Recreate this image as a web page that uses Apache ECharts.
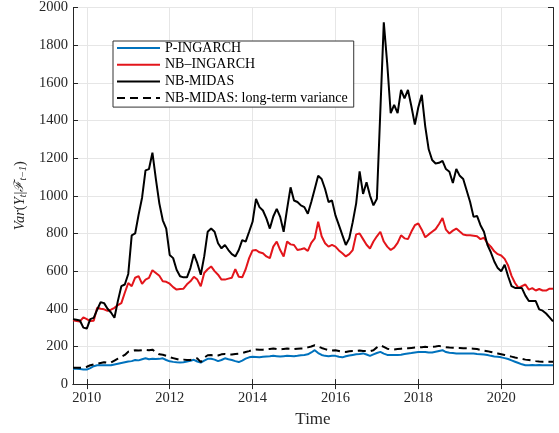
<!DOCTYPE html>
<html>
<head>
<meta charset="utf-8">
<script src="https://cdn.jsdelivr.net/npm/echarts@6/dist/echarts.min.js"></script>
<style>html,body{margin:0;padding:0;background:#fff;}#c{width:559px;height:433px;}</style>
</head>
<body>
<div id="c"></div>
<script>
// Monthly observations, 2009-09 .. 2021-04
const startYear = 2009, startMonth = 9, nMonths = 140;
const months = [];
for (let k = 0; k < nMonths; k++) {
  const m0 = startMonth - 1 + k;
  const y = startYear + Math.floor(m0 / 12), m = (m0 % 12) + 1;
  months.push(y + '-' + (m < 10 ? '0' + m : m));
}
const yTicks = {min: 0, max: 2000, step: 200};
const seriesNames = ['P-INGARCH', 'NB\u2013INGARCH', 'NB-MIDAS', 'NB-MIDAS: long-term variance'];

const pIngarch = [82,82,80,78,77,85,95,100,100,100,100,100,104,108,112,116,120,122,128,126,
  132,137,132,135,133,134,137,128,121,118,116,115,116,120,124,129,120,114,125,134,
  135,130,122,128,137,132,128,122,117,125,135,142,145,144,143,145,147,148,150,148,
  146,148,150,149,148,150,153,154,158,168,180,165,155,150,148,150,150,145,142,148,
  152,155,158,160,163,157,150,158,165,171,162,155,154,154,154,156,160,163,165,168,
  170,170,171,168,168,172,176,180,170,166,165,163,163,163,163,163,162,160,159,157,
  154,150,147,145,142,138,133,126,119,112,105,100,100,101,100,101,100,100,100,100];

const nbIngarch = [339,335,333,354,345,335,336,405,400,397,389,395,405,420,430,485,537,520,565,573,
  532,555,564,605,590,575,546,543,533,515,502,505,507,530,546,570,555,520,590,610,
  625,600,581,555,555,560,565,610,570,567,610,669,710,712,700,695,678,669,730,757,
  712,678,757,742,739,712,716,721,707,750,774,862,785,748,730,739,730,710,695,678,
  690,712,795,800,770,740,720,757,785,809,757,730,712,725,750,790,774,770,810,844,
  853,820,780,795,809,823,850,882,820,800,815,826,810,795,791,790,788,785,770,777,
  748,730,705,690,683,665,630,575,537,511,520,529,502,510,497,505,497,497,507,506];

const nbMidas = [345,342,338,300,295,345,352,395,435,430,400,380,352,442,520,529,585,790,800,900,
  990,1135,1142,1229,1089,960,870,826,686,669,607,573,567,567,616,690,642,581,678,809,
  826,809,748,721,739,712,690,678,712,765,757,809,862,984,940,922,880,826,890,931,
  888,809,931,1045,975,967,949,940,905,967,1036,1106,1089,1036,967,975,896,844,791,739,
  774,860,960,1130,1010,1072,1001,949,984,1450,1921,1700,1439,1483,1439,1562,1518,1562,1474,1378,
  1470,1536,1369,1247,1190,1172,1175,1185,1142,1128,1068,1142,1106,1089,1028,967,888,893,844,809,
  740,700,651,616,599,634,573,520,511,511,510,470,441,441,441,397,390,375,354,333];

const nbMidasLong = [87,87,87,87,92,100,104,108,112,116,113,115,125,135,145,155,172,176,180,178,
  180,182,180,183,170,158,156,150,143,138,133,128,130,128,128,132,137,117,140,153,
  154,150,152,158,160,158,157,160,162,165,170,175,182,184,182,183,186,187,189,186,
  184,187,189,188,186,188,189,189,195,200,206,200,192,186,180,178,180,176,172,171,
  174,176,176,178,176,175,175,180,195,206,198,188,184,184,186,188,190,190,192,194,
  195,196,198,196,198,200,203,198,196,194,193,192,192,191,190,189,188,186,182,178,
  175,171,167,163,159,155,150,146,141,137,134,130,128,125,122,120,119,119,119,119];

const FONT = 'Liberation Serif';
const AX = '#262626';
const GRID = '#e6e6e6';
const isMajor = (idx) => { const v = months[idx]; const y = +v.slice(0,4); return v.slice(5) === '01' && y % 2 === 0; };

const chart = echarts.init(document.getElementById('c'), null, {renderer: 'canvas'});
const mk = (name, data, color, dashed) => ({
  name, type: 'line', data, showSymbol: false, symbol: 'none', smooth: false,
  lineStyle: {color, width: 2, type: dashed ? [8, 5] : 'solid'},
  itemStyle: {color}, animation: false
});
chart.setOption({
  animation: false,
  backgroundColor: '#fff',
  grid: {left: 73, right: 6, top: 7, bottom: 46, containLabel: false},
  legend: {
    left: 113, top: 41, orient: 'vertical',
    data: seriesNames,
    itemWidth: 43, itemHeight: 14, itemGap: 2.7,
    itemStyle: {opacity: 0},
    padding: [0, 6, 2, 3],
    backgroundColor: '#fff', borderColor: '#333', borderWidth: 1,
    textStyle: {fontFamily: FONT, fontSize: 14, color: '#000'}
  },
  xAxis: [{
    type: 'category', data: months, boundaryGap: false, position: 'bottom',
    axisLine: {show: true, lineStyle: {color: AX, width: 1}},
    axisTick: {show: true, inside: true, length: 5, interval: (i) => isMajor(i), lineStyle: {color: AX}},
    axisLabel: {interval: (i) => isMajor(i), formatter: (v) => v.slice(0,4), fontFamily: FONT, fontSize: 14.5, color: AX, margin: 7},
    splitLine: {show: true, interval: (i) => isMajor(i), lineStyle: {color: GRID, width: 1}},
    name: 'Time', nameLocation: 'middle', nameGap: 24,
    nameTextStyle: {fontFamily: FONT, fontSize: 17, color: AX}
  }, {
    type: 'category', data: months, boundaryGap: false, position: 'top',
    axisLine: {show: true, lineStyle: {color: AX, width: 1}},
    axisTick: {show: true, inside: true, length: 5, interval: (i) => isMajor(i), lineStyle: {color: AX}},
    axisLabel: {show: false}, splitLine: {show: false}
  }],
  yAxis: [{
    type: 'value', min: yTicks.min, max: yTicks.max, interval: yTicks.step, position: 'left',
    axisLine: {show: true, lineStyle: {color: AX, width: 1}},
    axisTick: {show: true, inside: true, length: 5, lineStyle: {color: AX}},
    axisLabel: {fontFamily: FONT, fontSize: 14.5, color: AX, margin: 5, formatter: (v) => String(v)},
    splitLine: {show: true, lineStyle: {color: GRID, width: 1}},
    name: '{it|Var}{n|(}{it|Y}{sub|t}{n||}{cal|\u2131}{sub|t\u22121}{n|)}',
    nameLocation: 'middle', nameGap: 31, nameRotate: 90,
    nameTextStyle: {
      fontFamily: FONT, fontSize: 14.5, color: AX,
      rich: {
        it: {fontFamily: FONT, fontStyle: 'italic', fontSize: 14.5, color: AX},
        n: {fontFamily: FONT, fontSize: 14.5, color: AX},
        cal: {fontFamily: 'DejaVu Serif', fontStyle: 'italic', fontSize: 13, color: AX},
        sub: {fontFamily: FONT, fontStyle: 'italic', fontSize: 10, color: AX, padding: [6, 0, 0, 0]}
      }
    }
  }, {
    type: 'value', min: yTicks.min, max: yTicks.max, interval: yTicks.step, position: 'right',
    axisLine: {show: true, lineStyle: {color: AX, width: 1}},
    axisTick: {show: true, inside: true, length: 5, lineStyle: {color: AX}},
    axisLabel: {show: false}, splitLine: {show: false}
  }],
  series: [
    mk(seriesNames[0], pIngarch, '#0072BD', false),
    mk(seriesNames[1], nbIngarch, '#E3151B', false),
    mk(seriesNames[2], nbMidas, '#000000', false),
    mk(seriesNames[3], nbMidasLong, '#000000', true)
  ]
});
</script>
</body>
</html>
